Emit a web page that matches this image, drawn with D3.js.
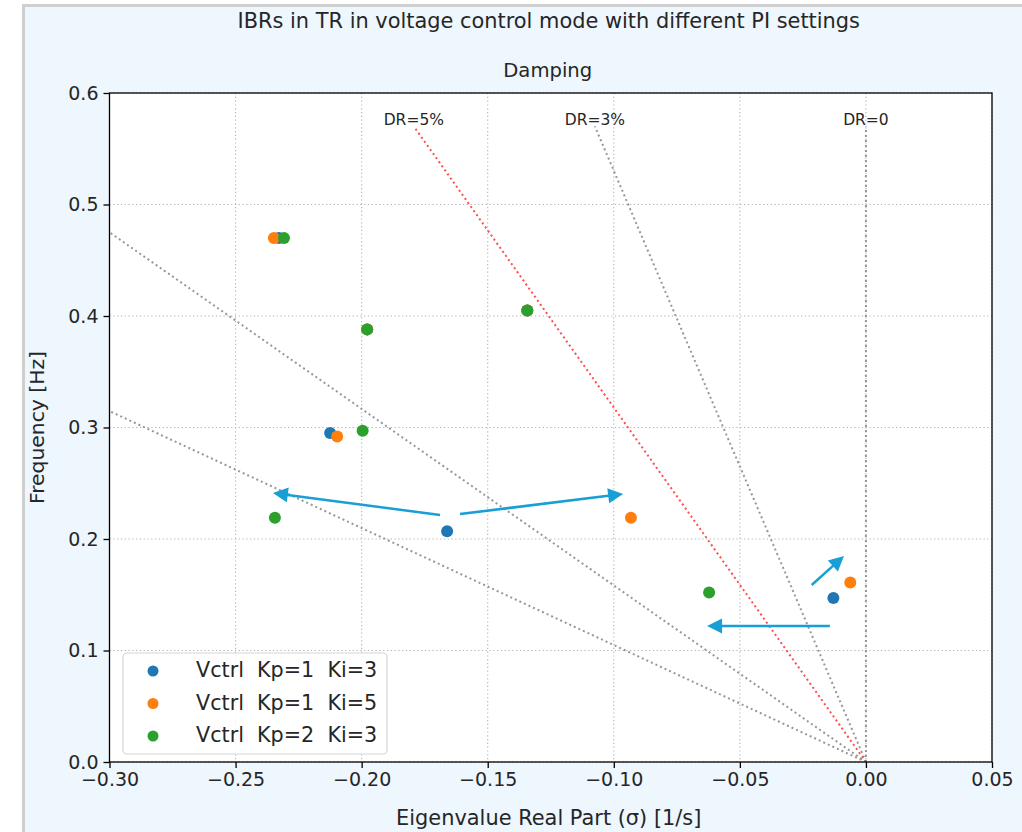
<!DOCTYPE html>
<html>
<head>
<meta charset="utf-8">
<script src="https://cdn.jsdelivr.net/npm/d3@7"></script>
<style>
  body { margin: 0; background: #ffffff; }
  svg { display: block; font-family: "DejaVu Sans", sans-serif; }
</style>
</head>
<body>
<svg id="chart"></svg>
<script>
// chart values
let seriesNames = ["Vctrl  Kp=1  Ki=3", "Vctrl  Kp=1  Ki=5", "Vctrl  Kp=2  Ki=3"]
let seriesColors = ["#1f77b4", "#ff7f0e", "#2ca02c"]

let sigmaKp1Ki3 = [-0.2328, -0.1978, -0.1343, -0.2125, -0.1661, -0.0129]
let freqKp1Ki3  = [0.470, 0.388, 0.405, 0.295, 0.207, 0.147]
let sigmaKp1Ki5 = [-0.2348, -0.1978, -0.1343, -0.2097, -0.0932, -0.0062]
let freqKp1Ki5  = [0.470, 0.388, 0.405, 0.292, 0.219, 0.161]
let sigmaKp2Ki3 = [-0.2308, -0.1978, -0.1343, -0.1996, -0.2344, -0.0622]
let freqKp2Ki3  = [0.470, 0.388, 0.405, 0.297, 0.219, 0.152]

let xTicks = [-0.30, -0.25, -0.20, -0.15, -0.10, -0.05, 0.00, 0.05]
let yTicks = [0.0, 0.1, 0.2, 0.3, 0.4, 0.5, 0.6]

// damping ratio guide lines (zeta), and which ones get a label
let dampingRatios = [0, 0.03, 0.05, 0.10, 0.15]
let dampingLabels = ["DR=0", "DR=3%", "DR=5%", "", ""]
let dampingMaxFreq = 0.57

// annotation arrows [sigma, freq]
let arrowFrom = [[-0.1689, 0.2215], [-0.1610, 0.2224], [-0.0143, 0.1220], [-0.0215, 0.1587]]
let arrowTo   = [[-0.2352, 0.2413], [-0.0963, 0.2404], [-0.0630, 0.1220], [-0.0087, 0.1848]]

let width = 1022
let height = 832
let plotLeft = 109.5, plotRight = 992, plotTop = 93, plotBottom = 762

let svg = d3.select("#chart").attr("width", width).attr("height", height)

// figure background with border
svg.append("rect").attr("x", 23.5).attr("y", 5.5).attr("width", 1000).attr("height", 840)
   .attr("fill", "#eef6fe").attr("stroke", "#cfcfcf").attr("stroke-width", 3)

let xScale = d3.scaleLinear().domain([-0.30, 0.05]).range([plotLeft, plotRight])
let yScale = d3.scaleLinear().domain([0, 0.6]).range([plotBottom, plotTop])

svg.append("rect").attr("x", plotLeft).attr("y", plotTop)
   .attr("width", plotRight - plotLeft).attr("height", plotBottom - plotTop).attr("fill", "#ffffff")

svg.append("clipPath").attr("id", "plotclip")
   .append("rect").attr("x", plotLeft).attr("y", plotTop)
   .attr("width", plotRight - plotLeft).attr("height", plotBottom - plotTop)

// grid
let grid = svg.append("g")
grid.selectAll(".gx").data(xTicks).enter().append("line")
    .attr("x1", d => xScale(d)).attr("x2", d => xScale(d))
    .attr("y1", plotTop).attr("y2", plotBottom)
    .attr("stroke", "#b0b0b0").attr("stroke-width", 1.1).attr("stroke-dasharray", "1.2,2.6")
grid.selectAll(".gy").data(yTicks).enter().append("line")
    .attr("y1", d => yScale(d)).attr("y2", d => yScale(d))
    .attr("x1", plotLeft).attr("x2", plotRight)
    .attr("stroke", "#b0b0b0").attr("stroke-width", 1.1).attr("stroke-dasharray", "1.2,2.6")

// damping lines: sigma = -zeta * 2*pi*f / sqrt(1 - zeta^2)
let guides = svg.append("g").attr("clip-path", "url(#plotclip)")
dampingRatios.forEach((z, i) => {
  let sEnd = -z * 2 * Math.PI * dampingMaxFreq / Math.sqrt(1 - z * z)
  guides.append("line")
    .attr("x1", xScale(0)).attr("y1", yScale(0))
    .attr("x2", xScale(sEnd)).attr("y2", yScale(dampingMaxFreq))
    .attr("stroke", z === 0.05 ? "#ff3b3b" : "#8c8c8c")
    .attr("stroke-opacity", 0.9)
    .attr("stroke-width", 2).attr("stroke-dasharray", "2,3")
  if (dampingLabels[i]) {
    svg.append("text").attr("x", xScale(sEnd)).attr("y", 125)
       .attr("text-anchor", "middle").attr("font-size", 15.5).attr("fill", "#262626")
       .text(dampingLabels[i])
  }
})

// scatter points
let allSigma = [sigmaKp1Ki3, sigmaKp1Ki5, sigmaKp2Ki3]
let allFreq = [freqKp1Ki3, freqKp1Ki5, freqKp2Ki3]
allSigma.forEach((sig, k) => {
  svg.append("g").selectAll("circle").data(sig).enter().append("circle")
     .attr("cx", d => xScale(d))
     .attr("cy", (d, i) => yScale(allFreq[k][i]))
     .attr("r", 6).attr("fill", seriesColors[k])
})

// arrows
let arrowColor = "#179fd6"
arrowFrom.forEach((p, i) => {
  let x1 = xScale(p[0]), y1 = yScale(p[1])
  let x2 = xScale(arrowTo[i][0]), y2 = yScale(arrowTo[i][1])
  let dx = x2 - x1, dy = y2 - y1, len = Math.hypot(dx, dy)
  let ux = dx / len, uy = dy / len
  let headL = 15, headW = 7.5
  let bx = x2 - ux * headL, by = y2 - uy * headL
  svg.append("line").attr("x1", x1).attr("y1", y1).attr("x2", bx + ux * 2).attr("y2", by + uy * 2)
     .attr("stroke", arrowColor).attr("stroke-width", 2.5)
  svg.append("polygon")
     .attr("points", [[x2, y2], [bx - uy * headW, by + ux * headW], [bx + uy * headW, by - ux * headW]].map(q => q.join(",")).join(" "))
     .attr("fill", arrowColor)
})

// axes
let xAxis = d3.axisBottom(xScale).tickValues(xTicks).tickFormat(d3.format(".2f")).tickSizeOuter(0).tickSize(6).tickPadding(5)
let yAxis = d3.axisLeft(yScale).tickValues(yTicks).tickFormat(d3.format(".1f")).tickSizeOuter(0).tickSize(6).tickPadding(5)

let gx = svg.append("g").attr("transform", "translate(0," + plotBottom + ")").call(xAxis)
let gy = svg.append("g").attr("transform", "translate(" + plotLeft + ",0)").call(yAxis)
;[gx, gy].forEach(g => {
  g.select(".domain").remove()
  g.selectAll("line").attr("stroke", "#000").attr("stroke-width", 1.3)
  g.selectAll("text").attr("font-size", 19).attr("fill", "#262626").attr("font-family", "DejaVu Sans")
})

// spines
svg.append("rect").attr("x", plotLeft).attr("y", plotTop)
   .attr("width", plotRight - plotLeft).attr("height", plotBottom - plotTop)
   .attr("fill", "none").attr("stroke", "#000").attr("stroke-width", 1.3)

// titles and labels
let midX = (plotLeft + plotRight) / 2
svg.append("text").attr("x", midX - 2).attr("y", 28).attr("text-anchor", "middle")
   .attr("font-size", 20.9).attr("fill", "#262626")
   .text("IBRs in TR in voltage control mode with different PI settings")
svg.append("text").attr("x", midX - 3).attr("y", 77).attr("text-anchor", "middle")
   .attr("font-size", 19.6).attr("fill", "#262626").text("Damping")
svg.append("text").attr("x", midX - 2).attr("y", 825).attr("text-anchor", "middle")
   .attr("font-size", 20.9).attr("fill", "#262626").text("Eigenvalue Real Part (σ) [1/s]")
svg.append("text").attr("transform", "translate(44," + (plotTop + plotBottom) / 2 + ") rotate(-90)")
   .attr("text-anchor", "middle").attr("font-size", 20.3).attr("fill", "#262626").text("Frequency [Hz]")

// legend
let legend = svg.append("g")
legend.append("rect").attr("x", 123).attr("y", 653).attr("width", 264).attr("height", 101).attr("rx", 4)
      .attr("fill", "#ffffff").attr("fill-opacity", 0.85).attr("stroke", "#d6d6d6").attr("stroke-width", 1.2)
seriesNames.forEach((name, i) => {
  legend.append("circle").attr("cx", 153).attr("cy", 671 + i * 32.5).attr("r", 5.5).attr("fill", seriesColors[i])
  legend.append("text").attr("x", 196).attr("y", 677 + i * 32.5).attr("font-size", 20.7)
        .attr("fill", "#262626").style("white-space", "pre").text(name)
})
</script>
</body>
</html>
